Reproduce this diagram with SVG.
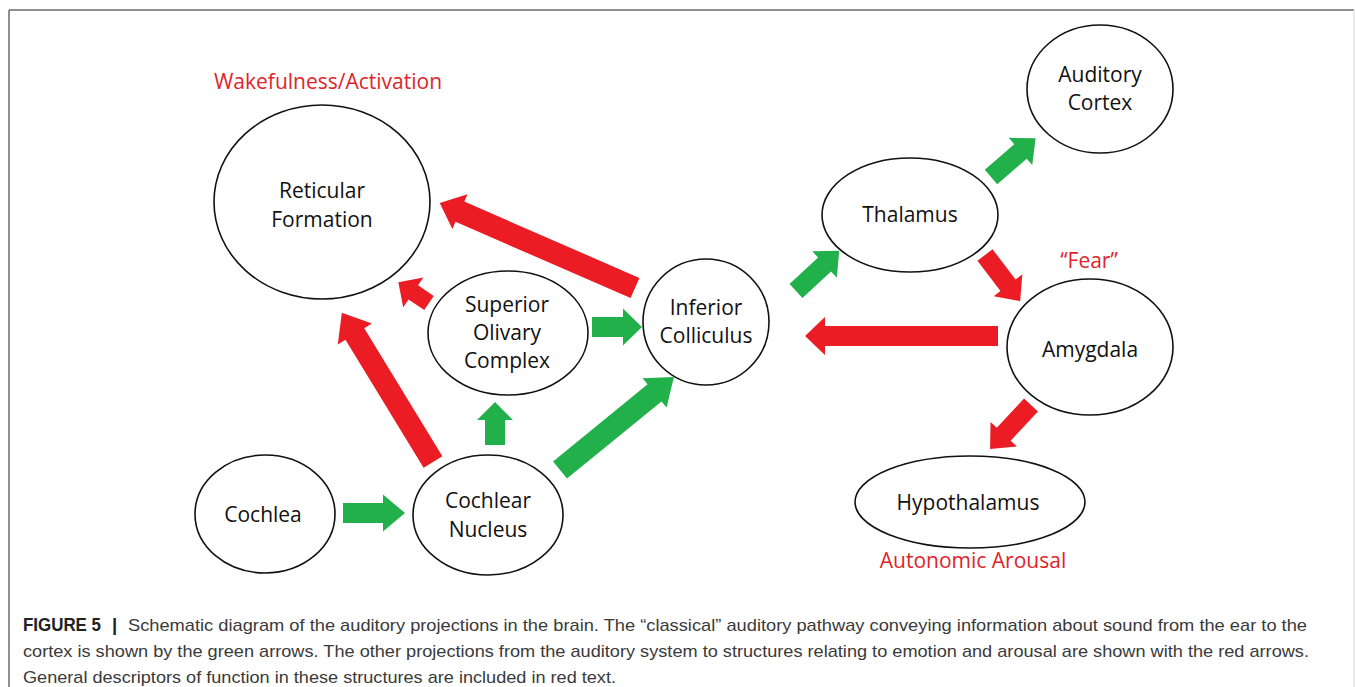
<svg xmlns="http://www.w3.org/2000/svg" width="1355" height="687" viewBox="0 0 1355 687">
<style>
.node{fill:#fff;stroke:#111;stroke-width:1.6}
.lbl{font-family:"Open Sans","Liberation Sans",sans-serif;font-size:21px;fill:#111;text-anchor:middle}
.red{font-family:"Open Sans","Liberation Sans",sans-serif;font-size:21px;fill:#e0242b;text-anchor:middle}
.g{fill:#22b04b}
.r{fill:#ec1c24}
.cap{font-family:"Liberation Sans",Arial,sans-serif;font-size:17px;fill:#3a3a3a}
</style>
<rect width="1355" height="687" fill="#fff"/>
<g id="frame">
<line x1="9" y1="10" x2="1354" y2="10" stroke="#6b6b6b" stroke-width="1.5"/>
<line x1="9" y1="10" x2="9" y2="687" stroke="#6b6b6b" stroke-width="1.5"/>
<line x1="1354" y1="10" x2="1354" y2="687" stroke="#dcdcdc" stroke-width="1.2"/>
</g>
<g id="connectors">
<polygon class="g" transform="translate(343,513)" points="0,-10 40,-10 40,-18.5 62,0 40,18.5 40,10 0,10"/>
<polygon class="g" transform="translate(495,445) rotate(-90)" points="0,-10 25,-10 25,-18 43,0 25,18 25,10 0,10"/>
<polygon class="g" transform="translate(592,327)" points="0,-10 31,-10 31,-18.5 50,0 31,18.5 31,10 0,10"/>
<polygon class="g" transform="translate(560,470) rotate(-39.2)" points="0,-11 122,-11 122,-19 147,0 122,19 122,11 0,11"/>
<polygon class="r" transform="translate(433,462) rotate(-121.4)" points="0,-11 150,-11 150,-20 175,0 150,20 150,11 0,11"/>
<polygon class="r" transform="translate(429,303) rotate(-145.9)" points="0,-8.5 19,-8.5 19,-18 37,0 19,18 19,8.5 0,8.5"/>
<polygon class="r" transform="translate(635,288) rotate(-156.45)" points="0,-11 191,-11 191,-19 213,0 191,19 191,11 0,11"/>
<polygon class="r" transform="translate(998,336) rotate(180)" points="0,-10 173,-10 173,-19 193,0 173,19 173,10 0,10"/>
<polygon class="g" transform="translate(796,291) rotate(-42.9)" points="0,-9.5 39,-9.5 39,-18 59,0 39,18 39,9.5 0,9.5"/>
<polygon class="g" transform="translate(991,177) rotate(-40.9)" points="0,-9.5 39,-9.5 39,-18 59,0 39,18 39,9.5 0,9.5"/>
<polygon class="r" transform="translate(985,255) rotate(52.7)" points="0,-9.5 38,-9.5 38,-18 58,0 38,18 38,9.5 0,9.5"/>
<polygon class="r" transform="translate(1031,405) rotate(133)" points="0,-9.5 40,-9.5 40,-18 60,0 40,18 40,9.5 0,9.5"/>
</g>
<g id="reticular-formation">
<ellipse class="node" cx="322" cy="202" rx="108" ry="97"/>
<text class="lbl" x="322" y="198">Reticular</text>
<text class="lbl" x="322" y="227">Formation</text>
</g>
<g id="superior-olivary-complex">
<ellipse class="node" cx="508" cy="333" rx="80" ry="62"/>
<text class="lbl" x="507" y="312">Superior</text>
<text class="lbl" x="507" y="340">Olivary</text>
<text class="lbl" x="507" y="368">Complex</text>
</g>
<g id="inferior-colliculus">
<ellipse class="node" cx="706" cy="322" rx="63" ry="63"/>
<text class="lbl" x="706" y="315">Inferior</text>
<text class="lbl" x="706" y="343">Colliculus</text>
</g>
<g id="thalamus">
<ellipse class="node" cx="910" cy="215" rx="88" ry="57"/>
<text class="lbl" x="910" y="222">Thalamus</text>
</g>
<g id="auditory-cortex">
<ellipse class="node" cx="1100" cy="89" rx="73" ry="64"/>
<text class="lbl" x="1100" y="82">Auditory</text>
<text class="lbl" x="1100" y="110">Cortex</text>
</g>
<g id="amygdala">
<ellipse class="node" cx="1090" cy="347" rx="83" ry="68"/>
<text class="lbl" x="1090" y="357">Amygdala</text>
</g>
<g id="hypothalamus">
<ellipse class="node" cx="970" cy="502" rx="115" ry="46"/>
<text class="lbl" x="968" y="510">Hypothalamus</text>
</g>
<g id="cochlea">
<ellipse class="node" cx="265" cy="514" rx="70" ry="59"/>
<text class="lbl" x="263" y="522">Cochlea</text>
</g>
<g id="cochlear-nucleus">
<ellipse class="node" cx="488" cy="515" rx="75" ry="60"/>
<text class="lbl" x="488" y="508">Cochlear</text>
<text class="lbl" x="488" y="537">Nucleus</text>
</g>
<g id="descriptors">
<text class="red" x="328" y="89">Wakefulness/Activation</text>
<text class="red" x="1089" y="268">“Fear”</text>
<text class="red" x="973" y="568">Autonomic Arousal</text>
</g>
<g id="caption">
<text class="cap" x="23" y="631"><tspan font-weight="bold" fill="#222" font-size="18.5" textLength="78" lengthAdjust="spacingAndGlyphs">FIGURE 5</tspan><tspan x="112" font-weight="bold" fill="#222" font-size="18.5">|</tspan><tspan x="128" textLength="1179" lengthAdjust="spacingAndGlyphs">Schematic diagram of the auditory projections in the brain. The “classical” auditory pathway conveying information about sound from the ear to the</tspan></text>
<text class="cap" x="23" y="657" textLength="1286" lengthAdjust="spacingAndGlyphs">cortex is shown by the green arrows. The other projections from the auditory system to structures relating to emotion and arousal are shown with the red arrows.</text>
<text class="cap" x="23" y="683" textLength="593" lengthAdjust="spacingAndGlyphs">General descriptors of function in these structures are included in red text.</text>
</g>
</svg>
